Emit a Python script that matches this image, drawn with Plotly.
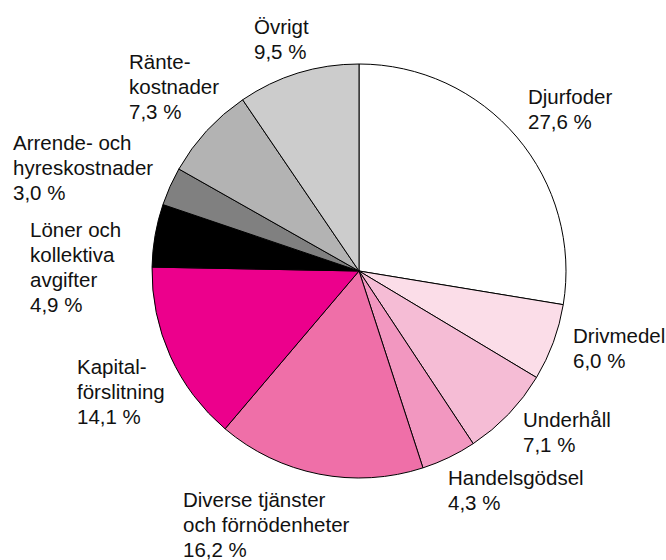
import plotly.graph_objects as go

W, H = 666, 560

# cost shares, clockwise from 12 o'clock
labels = ["Djurfoder", "Drivmedel", "Underhåll", "Handelsgödsel",
          "Diverse tjänster<br>och förnödenheter", "Kapital-<br>förslitning",
          "Löner och<br>kollektiva<br>avgifter", "Arrende- och<br>hyreskostnader",
          "Ränte-<br>kostnader", "Övrigt"]
values = [27.6, 6.0, 7.1, 4.3, 16.2, 14.1, 4.9, 3.0, 7.3, 9.5]
colors = ["#ffffff", "#fbdde8", "#f5bcd5", "#f297c0", "#ef6fa8",
          "#ec008c", "#000000", "#808080", "#b3b3b3", "#cccccc"]

# label placement in pixels: left edge, baseline of first line
label_pos = [(527, 102), (572, 341), (522, 425), (447, 483), (182, 505),
             (76, 372), (29, 235), (12, 148), (128, 67), (253, 32)]

FS = 20.5
LINE = 25


def px_x(x):
    return x / W


def px_y(y):
    return 1 - y / H


fig = go.Figure()
fig.add_trace(go.Pie(
    values=values,
    labels=[l.replace("<br>", " ") for l in labels],
    marker=dict(colors=colors, line=dict(color="black", width=1)),
    sort=False,
    direction="clockwise",
    rotation=0,
    textinfo="none",
    hoverinfo="none",
    showlegend=False,
    domain=dict(x=[px_x(152), px_x(566)], y=[px_y(478), px_y(64)]),
))

for lab, val, (x0, y0) in zip(labels, values, label_pos):
    lines = lab.split("<br>") + [f"{val:.1f} %".replace(".", ",")]
    for i, line in enumerate(lines):
        fig.add_annotation(
            x=px_x(x0), y=px_y(y0 + i * LINE - 0.9 * FS),
            xref="paper", yref="paper",
            xanchor="left", yanchor="top", align="left",
            text=line, showarrow=False, borderpad=0,
            font=dict(family="Liberation Sans, Arial, sans-serif", size=FS, color="#111111"),
        )

fig.update_layout(
    width=W, height=H,
    margin=dict(l=0, r=0, t=0, b=0),
    paper_bgcolor="white",
    plot_bgcolor="white",
)

# drop the default page margin so the figure fills the window exactly
fig.write_html("out.html",
               config={"displayModeBar": False},
               post_script="document.body.style.margin='0';document.body.style.overflow='hidden';")
